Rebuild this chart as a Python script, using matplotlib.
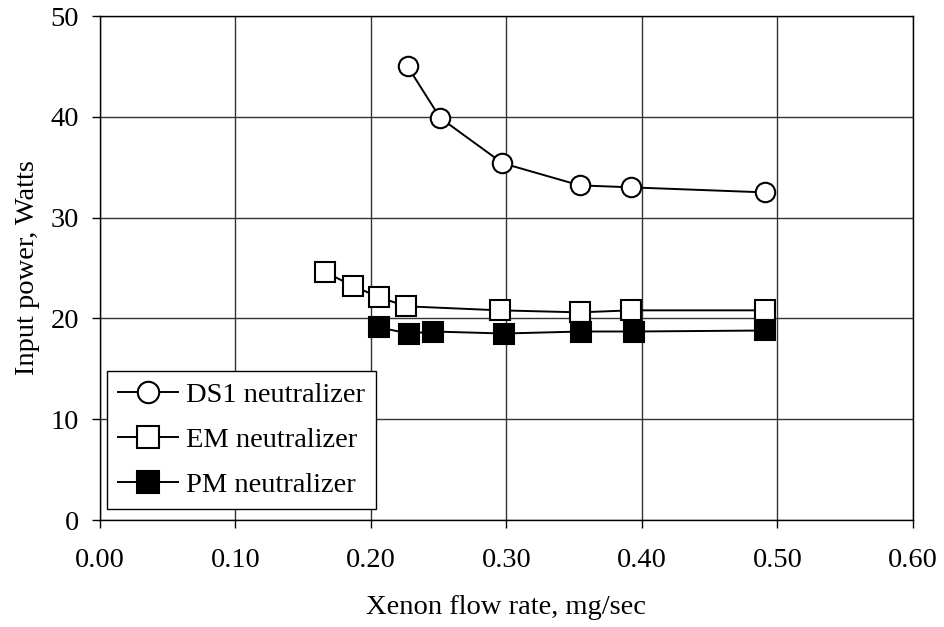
import matplotlib

matplotlib.use("Agg")
import matplotlib.pyplot as plt

# Xenon flow rate (mg/sec) vs neutralizer input power (W)
DS1_FLOW = [0.227, 0.251, 0.297, 0.354, 0.392, 0.491]
DS1_POWER = [45.0, 39.9, 35.4, 33.2, 33.0, 32.5]

EM_FLOW = [0.166, 0.187, 0.206, 0.226, 0.295, 0.354, 0.392, 0.491]
EM_POWER = [24.6, 23.2, 22.1, 21.2, 20.8, 20.6, 20.8, 20.8]

PM_FLOW = [0.206, 0.228, 0.246, 0.298, 0.355, 0.394, 0.491]
PM_POWER = [19.1, 18.5, 18.7, 18.5, 18.7, 18.7, 18.8]

X_TICKS = [0.0, 0.1, 0.2, 0.3, 0.4, 0.5, 0.6]
Y_TICKS = [0, 10, 20, 30, 40, 50]

plt.rcParams.update({
    "font.family": ["Liberation Serif", "DejaVu Serif"],
    "font.size": 20.5,
    "mathtext.fontset": "stix",
})

fig = plt.figure(figsize=(9.45, 6.27), dpi=100)
ax = fig.add_axes([100 / 945, 1 - 520 / 627, 813 / 945, 504 / 627])

ms = 14
ax.plot(DS1_FLOW, DS1_POWER, color="black", lw=1.4, marker="o", ms=ms,
        mfc="white", mec="black", mew=1.5, label="DS1 neutralizer", zorder=3)
ax.plot(EM_FLOW, EM_POWER, color="black", lw=1.4, marker="s", ms=ms,
        mfc="white", mec="black", mew=1.5, label="EM neutralizer", zorder=3)
ax.plot(PM_FLOW, PM_POWER, color="black", lw=1.4, marker="s", ms=ms,
        mfc="black", mec="black", mew=1.5, label="PM neutralizer", zorder=3)

ax.set_xlim(0, 0.6)
ax.set_ylim(0, 50)
ax.set_xticks(X_TICKS)
ax.set_xticklabels([f"{v:.2f}" for v in X_TICKS])
ax.set_yticks(Y_TICKS)
ax.grid(True, color="#333333", lw=1.0)
ax.set_axisbelow(True)
for sp in ax.spines.values():
    sp.set_color("black")
    sp.set_linewidth(1.0)
ax.tick_params(direction="out", length=6, width=1.0, color="black")
ax.tick_params(axis="x", pad=14)
ax.tick_params(axis="y", pad=9)

ax.set_xlabel("Xenon flow rate, mg/sec", labelpad=16)
ax.set_ylabel("Input power, Watts", labelpad=8)

leg = ax.legend(loc="lower left", bbox_to_anchor=(7 / 813, 11 / 504),
                frameon=True, fancybox=False, borderaxespad=0,
                handlelength=2.1, handletextpad=0.3, labelspacing=0.68,
                borderpad=0.38, markerscale=1.1)
leg.get_frame().set_edgecolor("black")
leg.get_frame().set_linewidth(1.0)
leg.get_frame().set_alpha(1.0)

fig.savefig("out.png", dpi=100)
